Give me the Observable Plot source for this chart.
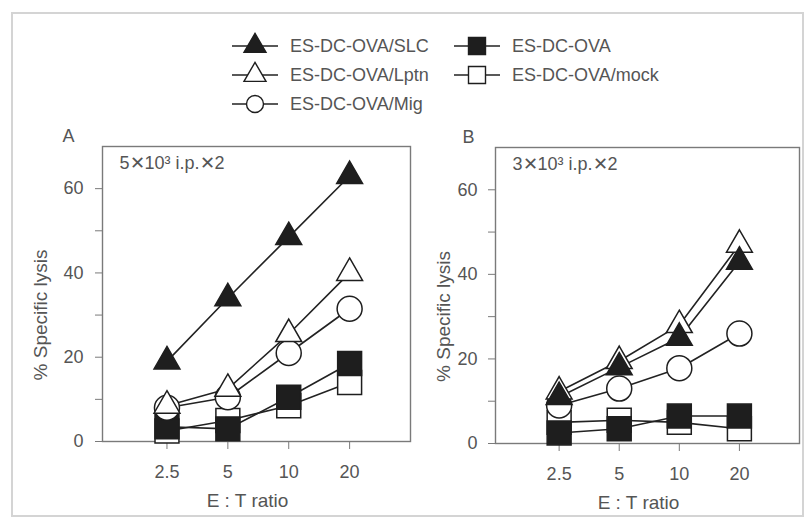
<!DOCTYPE html>
<html>
<head>
<meta charset="utf-8">
<script src="https://cdn.jsdelivr.net/npm/d3@7"></script>
<script src="https://cdn.jsdelivr.net/npm/@observablehq/plot@0.6"></script>
<style>
  body { margin: 0; background: white; }
  #wrap { position: relative; width: 812px; height: 523px; overflow: hidden; font-family: "Liberation Sans", Arial, sans-serif; }
  #wrap svg { position: absolute; }
  #border { position: absolute; left: 11px; top: 12px; width: 793px; height: 505px; border: 2px solid #d4d4d4; box-sizing: border-box; }
</style>
</head>
<body>
<div id="wrap"><div id="border"></div></div>
<script>
// ---- data ----
const ratios = [2.5, 5, 10, 20];
const xTickLabels = ["2.5", "5", "10", "20"];
const yTicks = [0, 10, 20, 30, 40, 50, 60];
const seriesNames = ["ES-DC-OVA/mock", "ES-DC-OVA", "ES-DC-OVA/Mig", "ES-DC-OVA/Lptn", "ES-DC-OVA/SLC"];
const legendOrder = ["ES-DC-OVA/SLC", "ES-DC-OVA", "ES-DC-OVA/Lptn", "ES-DC-OVA/mock", "ES-DC-OVA/Mig"];

const panelA_mock = [2.5, 5, 8.5, 14];
const panelA_ova  = [3.5, 3, 10.5, 18.5];
const panelA_mig  = [8, 10.5, 21, 31.5];
const panelA_lptn = [8.5, 12.5, 25.5, 40];
const panelA_slc  = [19, 34, 48.5, 63];

const panelB_mock = [5, 5.5, 5, 3.5];
const panelB_ova  = [2.5, 3.5, 6.5, 6.5];
const panelB_mig  = [9, 13, 17.8, 26];
const panelB_lptn = [12.3, 19.5, 28, 47];
const panelB_slc  = [11, 18, 25, 43];

const panelLetters = ["A", "B"];
const panelNotes = ["5✕10³ i.p.✕2", "3✕10³ i.p.✕2"];
const yLabel = "% Specific lysis";
const xLabel = "E : T ratio";

// ---- styles ----
const symbolOf = {"ES-DC-OVA/mock": "square", "ES-DC-OVA": "square", "ES-DC-OVA/Mig": "circle", "ES-DC-OVA/Lptn": "triangle", "ES-DC-OVA/SLC": "triangle"};
const fillOf = {"ES-DC-OVA/mock": "white", "ES-DC-OVA": "#1e1e1e", "ES-DC-OVA/Mig": "white", "ES-DC-OVA/Lptn": "white", "ES-DC-OVA/SLC": "#1e1e1e"};
const rOf = {square: 13.5, circle: 12.5, triangle: 9.6};

function tidy(lists) {
  const rows = [];
  seriesNames.forEach((s, i) => lists[i].forEach((v, j) => rows.push({series: s, x: ratios[j], y: v})));
  return rows;
}
const dataA = tidy([panelA_mock, panelA_ova, panelA_mig, panelA_lptn, panelA_slc]);
const dataB = tidy([panelB_mock, panelB_ova, panelB_mig, panelB_lptn, panelB_slc]);

const textColor = "#555";
const font = "'Liberation Sans', Arial, sans-serif";

function panel(data, idx, opts) {
  const marks = [
    Plot.frame({stroke: "#7a7a7a", strokeWidth: 1.4}),
    Plot.axisY({ticks: yTicks, tickFormat: d => d % 20 ? "" : String(d), tickSize: 7, tickPadding: opts.tickPadY, label: null, fontSize: 18, stroke: "#7a7a7a"}),
    Plot.axisX({ticks: ratios, tickFormat: d => xTickLabels[ratios.indexOf(d)], tickSize: 8, tickPadding: 16, label: null, fontSize: 18, stroke: "#7a7a7a"}),
    Plot.line(data, {x: "x", y: "y", z: "series", stroke: "#222", strokeWidth: 1.6})
  ];
  for (const s of seriesNames) {
    const sym = symbolOf[s];
    marks.push(Plot.dot(data.filter(d => d.series === s), {x: "x", y: "y", symbol: () => sym, r: rOf[sym], fill: fillOf[s], stroke: "#1e1e1e", strokeWidth: 1.5}));
  }
  marks.push(
    Plot.text([panelLetters[idx]], {frameAnchor: "top-left", dx: opts.letterDx, dy: -10, textAnchor: "middle", lineAnchor: "middle", fontSize: 18, fill: textColor}),
    Plot.text([panelNotes[idx]], {frameAnchor: "top-left", dx: 17, dy: 17, textAnchor: "start", lineAnchor: "middle", fontSize: 18, fill: textColor}),
    Plot.text([yLabel], {frameAnchor: "left", dx: opts.yLabelDx, dy: 21, rotate: -90, textAnchor: "middle", lineAnchor: "middle", fontSize: 19, fill: textColor}),
    Plot.text([xLabel], {frameAnchor: "bottom", dx: -9, dy: 59, textAnchor: "middle", lineAnchor: "middle", fontSize: 19, fill: textColor})
  );
  const svg = Plot.plot({
    width: opts.width, height: 523,
    marginLeft: opts.ml, marginRight: opts.mr, marginTop: opts.mt, marginBottom: opts.mb,
    x: {type: "log", domain: [1.2, 40]},
    y: {domain: [0, 70]},
    style: {background: "transparent", color: textColor, fontFamily: font, overflow: "visible", maxWidth: "none"},
    marks
  });
  svg.style.left = opts.left + "px";
  svg.style.top = "0px";
  return svg;
}

const wrap = document.getElementById("wrap");
wrap.appendChild(panel(dataA, 0, {left: 0, width: 420, ml: 102, mr: 10, mt: 146, mb: 82, letterDx: -34, yLabelDx: -62, tickPadY: 12}));
wrap.appendChild(panel(dataB, 1, {left: 406, width: 406, ml: 89, mr: 13, mt: 147, mb: 80, letterDx: -27, yLabelDx: -52, tickPadY: 11}));

// ---- legend ----
const legendPos = {
  "ES-DC-OVA/SLC": [255, 46], "ES-DC-OVA/Lptn": [255, 75], "ES-DC-OVA/Mig": [255, 104],
  "ES-DC-OVA": [477, 46], "ES-DC-OVA/mock": [477, 75]
};
const legendSize = {square: 17 * 17, triangle: 210, circle: Math.PI * 8.5 * 8.5};
const lsvg = d3.create("svg").attr("width", 812).attr("height", 130).style("left", "0px").style("top", "0px");
for (const s of legendOrder) {
  const [cx, cy] = legendPos[s];
  const g = lsvg.append("g").attr("transform", `translate(${cx},${cy})`);
  g.append("line").attr("x1", -23).attr("x2", 23).attr("stroke", "#222").attr("stroke-width", 1.6);
  const sym = symbolOf[s];
  const type = sym === "square" ? d3.symbolSquare : sym === "circle" ? d3.symbolCircle : d3.symbolTriangle;
  g.append("path").attr("d", d3.symbol(type, legendSize[sym])()).attr("fill", fillOf[s]).attr("stroke", "#1e1e1e").attr("stroke-width", 1.4);
  g.append("text").attr("x", 35).attr("dy", "0.35em").attr("fill", textColor).attr("font-size", 18).attr("font-family", font).text(s);
}
wrap.appendChild(lsvg.node());
</script>
</body>
</html>
